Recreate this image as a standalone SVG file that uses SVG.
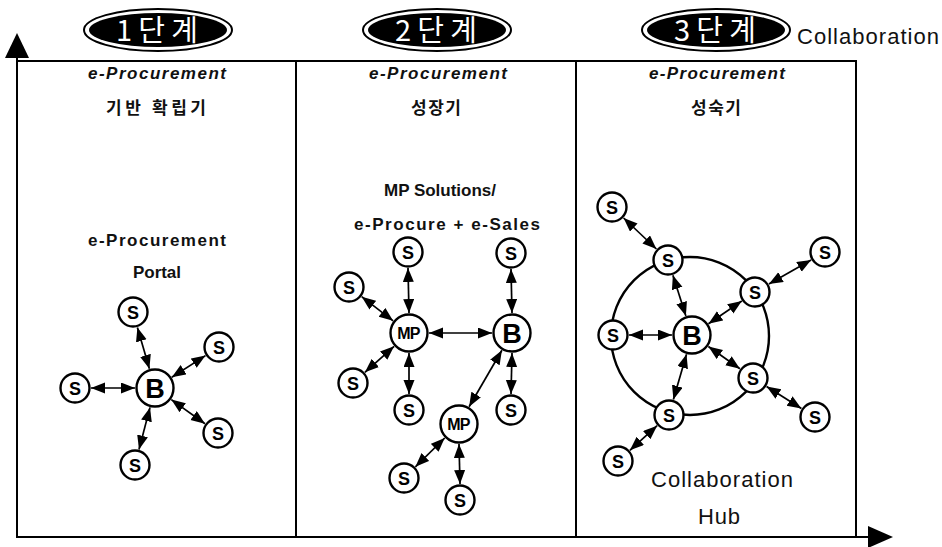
<svg xmlns="http://www.w3.org/2000/svg" width="942" height="547" viewBox="0 0 942 547">
  <style>
    .frame { fill: none; stroke: #000; stroke-width: 2; }
    .lbl { font-family: 'Liberation Sans', 'Noto Sans CJK KR', sans-serif; font-size: 17px; font-weight: bold; fill: #111; text-anchor: middle; }
    .ko { font-family: 'Noto Sans CJK KR', 'Liberation Sans', sans-serif; font-size: 17px; font-weight: bold; fill: #111; text-anchor: middle; }
    .big { font-family: 'Liberation Sans', 'Noto Sans CJK KR', sans-serif; font-size: 22px; fill: #111; text-anchor: middle; }
    .badge-txt { font-family: 'Noto Sans CJK KR', 'Liberation Sans', sans-serif; font-size: 29px; fill: #fff; text-anchor: middle; }
    .node circle { fill: #fff; stroke: #000; stroke-width: 2.4; }
    .node text { font-family: 'Liberation Sans', sans-serif; font-weight: bold; fill: #000; text-anchor: middle; }
    .s text { font-size: 18px; }
    .b text { font-size: 27px; }
    .mp text { font-size: 16px; letter-spacing: -0.8px; }
    .link { stroke: #000; stroke-width: 1.7; fill: none; marker-start: url(#head); marker-end: url(#head); }
  </style>
  <defs>
    <marker id="head" markerUnits="userSpaceOnUse" markerWidth="15" markerHeight="12" refX="14" refY="5.5" orient="auto-start-reverse">
      <path d="M0,0 L14,5.5 L0,11 z" fill="#000"/>
    </marker>
  </defs>

  <rect width="942" height="547" fill="#fff"/>

  <!-- axes and panel frame -->
  <g id="frame">
    <line class="frame" x1="17" y1="55" x2="17" y2="537"/>
    <polygon points="17,33 5,58 29,58" fill="#000"/>
    <line class="frame" x1="16" y1="61" x2="857" y2="61"/>
    <line class="frame" x1="296" y1="61" x2="296" y2="537"/>
    <line class="frame" x1="576" y1="61" x2="576" y2="537"/>
    <line class="frame" x1="856" y1="61" x2="856" y2="537"/>
    <line class="frame" x1="16" y1="537" x2="870" y2="537"/>
    <polygon points="868,526 893,537 868,548" fill="#000"/>
  </g>

  <!-- stage badges -->
  <g id="badge1">
    <ellipse cx="158" cy="30" rx="74" ry="21" fill="#fff" stroke="#000" stroke-width="2"/>
    <ellipse cx="158" cy="30" rx="69" ry="17" fill="#000"/>
    <text class="badge-txt" x="157" y="41" textLength="82" lengthAdjust="spacing">1단계</text>
  </g>
  <g id="badge2">
    <ellipse cx="437" cy="30" rx="74" ry="21" fill="#fff" stroke="#000" stroke-width="2"/>
    <ellipse cx="437" cy="30" rx="69" ry="17" fill="#000"/>
    <text class="badge-txt" x="436" y="41" textLength="82" lengthAdjust="spacing">2단계</text>
  </g>
  <g id="badge3">
    <ellipse cx="716" cy="30" rx="74" ry="21" fill="#fff" stroke="#000" stroke-width="2"/>
    <ellipse cx="716" cy="30" rx="69" ry="17" fill="#000"/>
    <text class="badge-txt" x="715" y="41" textLength="82" lengthAdjust="spacing">3단계</text>
  </g>
  <text class="big" x="868" y="44" textLength="142" lengthAdjust="spacing">Collaboration</text>

  <!-- panel captions -->
  <g id="captions">
    <text class="lbl" x="157" y="79" font-style="italic" textLength="138" lengthAdjust="spacing">e-Procurement</text>
    <text class="ko" x="156" y="114" textLength="100" lengthAdjust="spacing">기반 확립기</text>
    <text class="lbl" x="157" y="246" textLength="138" lengthAdjust="spacing">e-Procurement</text>
    <text class="lbl" x="157" y="278" textLength="48" lengthAdjust="spacing">Portal</text>

    <text class="lbl" x="438" y="79" font-style="italic" textLength="138" lengthAdjust="spacing">e-Procurement</text>
    <text class="ko" x="436" y="114" textLength="50" lengthAdjust="spacing">성장기</text>
    <text class="lbl" x="440" y="196" textLength="112" lengthAdjust="spacing">MP Solutions/</text>
    <text class="lbl" x="447" y="230" textLength="186" lengthAdjust="spacing">e-Procure + e-Sales</text>

    <text class="lbl" x="717" y="79" font-style="italic" textLength="136" lengthAdjust="spacing">e-Procurement</text>
    <text class="ko" x="716" y="114" textLength="50" lengthAdjust="spacing">성숙기</text>
    <text class="big" x="722" y="487" textLength="142" lengthAdjust="spacing">Collaboration</text>
    <text class="big" x="719" y="524" textLength="42" lengthAdjust="spacing">Hub</text>
  </g>

  <!-- hub ring -->
  <circle id="ring" cx="690" cy="336" r="79" fill="none" stroke="#000" stroke-width="2.4"/>

  <!-- connectors -->
  <g id="connectors">
    <!-- stage 1 -->
    <line class="link" x1="149.4" y1="368.8" x2="137.4" y2="327.4"/>
    <line class="link" x1="171.8" y1="377.2" x2="205.5" y2="355.6"/>
    <line class="link" x1="135" y1="388" x2="91" y2="388"/>
    <line class="link" x1="171.3" y1="399.6" x2="205.0" y2="423.7"/>
    <line class="link" x1="150.0" y1="407.4" x2="139.0" y2="449.5"/>
    <!-- stage 2 -->
    <line class="link" x1="409" y1="313" x2="408" y2="268"/>
    <line class="link" x1="393.1" y1="320.8" x2="361.7" y2="296.7"/>
    <line class="link" x1="394.1" y1="346.3" x2="364.9" y2="372.3"/>
    <line class="link" x1="409" y1="353" x2="409" y2="394"/>
    <line class="link" x1="429" y1="333" x2="492" y2="333"/>
    <line class="link" x1="512" y1="313" x2="511" y2="269"/>
    <line class="link" x1="512" y1="353" x2="511" y2="394"/>
    <line class="link" x1="501.9" y1="350.3" x2="469.1" y2="406.7"/>
    <line class="link" x1="444.7" y1="438.0" x2="415.4" y2="466.8"/>
    <line class="link" x1="459" y1="444" x2="460" y2="484"/>
    <!-- stage 3 -->
    <line class="link" x1="623.6" y1="218.0" x2="656.4" y2="249.0"/>
    <line class="link" x1="672.9" y1="275.2" x2="685.9" y2="316.0"/>
    <line class="link" x1="629" y1="335" x2="672" y2="335"/>
    <line class="link" x1="673.4" y1="399.6" x2="686.5" y2="354.2"/>
    <line class="link" x1="741.8" y1="301.0" x2="708.5" y2="323.7"/>
    <line class="link" x1="739.9" y1="368.8" x2="708.4" y2="346.5"/>
    <line class="link" x1="811.1" y1="259.9" x2="768.9" y2="284.1"/>
    <line class="link" x1="801.4" y1="408.5" x2="766.6" y2="386.5"/>
    <line class="link" x1="629.9" y1="450.3" x2="657.1" y2="425.7"/>
  </g>

  <!-- stage 1 nodes -->
  <g id="p1-b" class="node b"><circle cx="155" cy="388" r="18.5"/><text x="155" y="397.5">B</text></g>
  <g id="p1-s1" class="node s"><circle cx="133" cy="312" r="14.5"/><text x="133" y="318.5">S</text></g>
  <g id="p1-s2" class="node s"><circle cx="219" cy="347" r="14.5"/><text x="219" y="353.5">S</text></g>
  <g id="p1-s3" class="node s"><circle cx="75" cy="388" r="14.5"/><text x="75" y="394.5">S</text></g>
  <g id="p1-s4" class="node s"><circle cx="218" cy="433" r="14.5"/><text x="218" y="439.5">S</text></g>
  <g id="p1-s5" class="node s"><circle cx="135" cy="465" r="14.5"/><text x="135" y="471.5">S</text></g>

  <!-- stage 2 nodes -->
  <g id="p2-mp1" class="node mp"><circle cx="409" cy="333" r="18.5"/><text x="408.5" y="339">MP</text></g>
  <g id="p2-b" class="node b"><circle cx="512" cy="333" r="18.5"/><text x="512" y="342.5">B</text></g>
  <g id="p2-mp2" class="node mp"><circle cx="459" cy="424" r="18.5"/><text x="458.5" y="430">MP</text></g>
  <g id="p2-s1" class="node s"><circle cx="408" cy="252" r="14.5"/><text x="408" y="258.5">S</text></g>
  <g id="p2-s2" class="node s"><circle cx="511" cy="253" r="14.5"/><text x="511" y="259.5">S</text></g>
  <g id="p2-s3" class="node s"><circle cx="349" cy="287" r="14.5"/><text x="349" y="293.5">S</text></g>
  <g id="p2-s4" class="node s"><circle cx="353" cy="383" r="14.5"/><text x="353" y="389.5">S</text></g>
  <g id="p2-s5" class="node s"><circle cx="409" cy="410" r="14.5"/><text x="409" y="416.5">S</text></g>
  <g id="p2-s6" class="node s"><circle cx="511" cy="410" r="14.5"/><text x="511" y="416.5">S</text></g>
  <g id="p2-s7" class="node s"><circle cx="404" cy="478" r="14.5"/><text x="404" y="484.5">S</text></g>
  <g id="p2-s8" class="node s"><circle cx="460" cy="500" r="14.5"/><text x="460" y="506.5">S</text></g>

  <!-- stage 3 nodes -->
  <g id="p3-b" class="node b"><circle cx="692" cy="335" r="18.5"/><text x="692" y="344.5">B</text></g>
  <g id="p3-ring-top" class="node s"><circle cx="668" cy="260" r="14.5"/><text x="668" y="266.5">S</text></g>
  <g id="p3-ring-left" class="node s"><circle cx="613" cy="335" r="14.5"/><text x="613" y="341.5">S</text></g>
  <g id="p3-ring-bottom" class="node s"><circle cx="669" cy="415" r="14.5"/><text x="669" y="421.5">S</text></g>
  <g id="p3-ring-ne" class="node s"><circle cx="755" cy="292" r="14.5"/><text x="755" y="298.5">S</text></g>
  <g id="p3-ring-se" class="node s"><circle cx="753" cy="378" r="14.5"/><text x="753" y="384.5">S</text></g>
  <g id="p3-out-nw" class="node s"><circle cx="612" cy="207" r="14.5"/><text x="612" y="213.5">S</text></g>
  <g id="p3-out-ne" class="node s"><circle cx="825" cy="252" r="14.5"/><text x="825" y="258.5">S</text></g>
  <g id="p3-out-se" class="node s"><circle cx="815" cy="417" r="14.5"/><text x="815" y="423.5">S</text></g>
  <g id="p3-out-sw" class="node s"><circle cx="618" cy="461" r="14.5"/><text x="618" y="467.5">S</text></g>
</svg>
